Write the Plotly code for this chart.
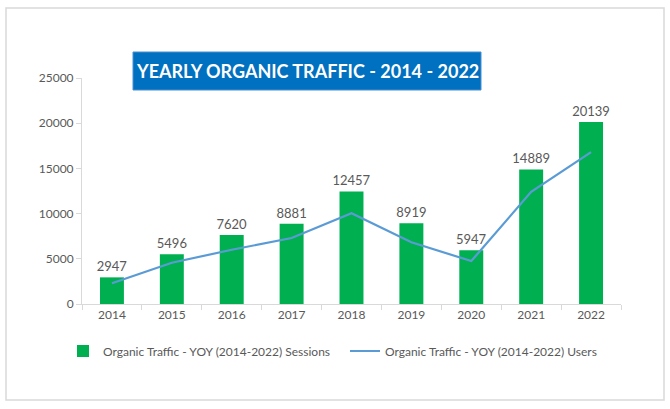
import plotly.graph_objects as go

years = ["2014", "2015", "2016", "2017", "2018", "2019", "2020", "2021", "2022"]
sessions = [2947, 5496, 7620, 8881, 12457, 8919, 5947, 14889, 20139]
users = [2300, 4560, 6000, 7300, 10050, 6830, 4750, 12400, 16800]
title_text = "YEARLY ORGANIC TRAFFIC - 2014 - 2022"

FONT = "Lato"
GRAY = "#595959"

fig = go.Figure()
fig.add_trace(go.Bar(
    x=years, y=sessions, name="Organic Traffic - YOY (2014-2022) Sessions",
    marker=dict(color="#00B050", line=dict(width=0)),
    text=[str(v) for v in sessions], textposition="outside", textangle=0,
    constraintext="none", legend="legend",
    textfont=dict(family=FONT, size=13, color=GRAY), cliponaxis=False,
))
fig.add_trace(go.Scatter(
    x=years, y=users, name="Organic Traffic - YOY (2014-2022) Users",
    mode="lines", line=dict(color="#5B9BD5", width=2.2), legend="legend2",
))

L, R, T, B = 82, 49, 78, 105
W, H = 670, 409
pw, ph = W - L - R, H - T - B

def px2x(px):
    return (px - L) / pw

def py2y(py):
    return (H - B - py) / ph

leg_common = dict(orientation="h", yanchor="middle", y=py2y(351), xanchor="left",
                  font=dict(family=FONT, size=12, color=GRAY), itemwidth=30,
                  bgcolor="rgba(0,0,0,0)")

fig.update_layout(
    width=W, height=H,
    margin=dict(l=L, r=R, t=T, b=B),
    paper_bgcolor="white", plot_bgcolor="white",
    bargap=0.6,
    showlegend=True,
    legend=dict(x=px2x(63), **leg_common),
    legend2=dict(x=px2x(345), **leg_common),
    xaxis=dict(type="category", showline=True, linecolor="#D9D9D9", linewidth=1,
               ticks="outside", tickson="boundaries", ticklen=5, tickcolor="#D9D9D9",
               tickfont=dict(family=FONT, size=12, color=GRAY), showgrid=False),
    yaxis=dict(range=[0, 25000], dtick=5000, tickformat="d", showline=True,
               linecolor="#D9D9D9", linewidth=1,
               ticks="outside", ticklen=5, tickcolor="#D9D9D9", showgrid=False, zeroline=False,
               tickfont=dict(family=FONT, size=12, color=GRAY)),
    shapes=[
        dict(type="rect", xref="paper", yref="paper",
             x0=px2x(6), x1=px2x(664), y0=py2y(400), y1=py2y(8),
             line=dict(color="#D9D9D9", width=1.5), fillcolor="rgba(0,0,0,0)", layer="below"),
        dict(type="rect", xref="paper", yref="paper",
             x0=px2x(133), x1=px2x(481), y0=py2y(90), y1=py2y(52),
             line=dict(color="#4A8FD0", width=1), fillcolor="#0070C0"),
    ],
    annotations=[
        dict(text="<b>" + title_text + "</b>", xref="paper", yref="paper",
             x=px2x(307), y=py2y(71), xanchor="center", yanchor="middle", showarrow=False,
             font=dict(family=FONT, size=18, color="white")),
    ],
)

fig.write_html("out.html")
